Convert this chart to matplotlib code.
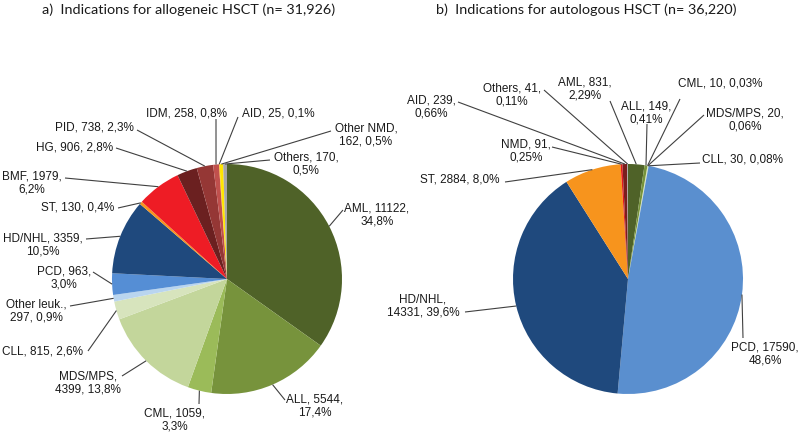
import numpy as np
import matplotlib.pyplot as plt

# a) allogeneic HSCT
allo_names = ["AML", "ALL", "CML", "MDS/MPS", "CLL", "Other leuk.", "PCD", "HD/NHL",
              "ST", "BMF", "HG", "PID", "IDM", "AID", "Other NMD", "Others"]
allo_values = [11122, 5544, 1059, 4399, 815, 297, 963, 3359,
               130, 1979, 906, 738, 258, 25, 162, 170]
allo_pct = ["34,8%", "17,4%", "3,3%", "13,8%", "2,6%", "0,9%", "3,0%", "10,5%",
            "0,4%", "6,2%", "2,8%", "2,3%", "0,8%", "0,1%", "0,5%", "0,5%"]

# b) autologous HSCT
auto_names = ["AML", "ALL", "CML", "MDS/MPS", "CLL", "PCD", "HD/NHL", "ST",
              "NMD", "AID", "Others"]
auto_values = [831, 149, 10, 20, 30, 17590, 14331, 2884, 91, 239, 41]
auto_pct = ["2,29%", "0,41%", "0,03%", "0,06%", "0,08%", "48,6%", "39,6%", "8,0%",
            "0,25%", "0,66%", "0,11%"]

# colours
allo_colors = ["#4f6228", "#77933c", "#9bbb59", "#c3d69b", "#d7e4bd", "#b9d5ef",
               "#558ed5", "#1f497d", "#f7941d", "#ee1c25", "#6b2020", "#953735",
               "#c0504d", "#f9a11b", "#ffe600", "#a6a6a6"]
auto_colors = ["#4f6228", "#77933c", "#9bbb59", "#c3d69b", "#d7e4bd", "#5a8fcf",
               "#1f497d", "#f7941d", "#e31a1c", "#7b1e1e", "#a6a6a6"]

# label layout (pixel coords from top-left): line break style, text centre, leader end
# break: 0 = one line, 1 = after name, 2 = after value
allo_break = [2, 2, 2, 1, 0, 1, 2, 2, 0, 2, 0, 0, 0, 0, 1, 2]
allo_text = [(377, 215), (315, 406), (175, 420), (88, 383), (42, 352), (36, 311),
             (64, 278), (43, 245), (78, 208), (32, 183), (75, 147), (94, 127),
             (187, 113), (278, 113), (366, 135), (306, 164)]
allo_end = [(343, 211), (285, 401), (199, 405), (122, 377), (88, 352), (70, 307),
            (93, 273), (86, 240), (118, 209), (65, 179), (116, 149), (137, 131),
            (216, 120), (238, 118), (331, 132), (270, 161)]

auto_break = [2, 2, 0, 2, 0, 2, 1, 0, 2, 2, 2]
auto_text = [(585, 89), (646, 113), (720, 83), (745, 120), (742, 160), (765, 354),
             (423, 306), (460, 180), (526, 151), (431, 107), (512, 95)]
auto_end = [(610, 102), (647, 125), (680, 100), (704, 116), (700, 164), (743, 339),
            (465, 313), (505, 183), (552, 148), (458, 103), (544, 91)]

W, H = 800, 435
R = 115

fig = plt.figure(figsize=(8, 4.35), dpi=100)
ax = fig.add_axes([0, 0, 1, 1])


def label_text(name, value, pct, brk):
    if brk == 1:
        return f"{name},\n{value}, {pct}"
    if brk == 2:
        return f"{name}, {value},\n{pct}"
    return f"{name}, {value}, {pct}"


def draw_pie(cx, cy, names, values, pct, colors, brks, texts, ends):
    wedges, _ = ax.pie(values, colors=colors, startangle=90, counterclock=False,
                       center=(cx, H - cy), radius=R,
                       wedgeprops=dict(linewidth=0))
    for w, n, v, p, b, t, e in zip(wedges, names, values, pct, brks, texts, ends):
        mid = np.deg2rad((w.theta1 + w.theta2) / 2)
        x0 = cx + R * np.cos(mid)
        y0 = H - cy + R * np.sin(mid)
        ax.plot([x0, e[0]], [y0, H - e[1]], color="#404040", lw=0.8,
                solid_capstyle="butt")
        ax.text(t[0], H - t[1], label_text(n, v, p, b), ha="center", va="center",
                multialignment="center", fontsize=8.5, family="Liberation Sans",
                color="#1a1a1a", linespacing=1.05)


draw_pie(227, 280, allo_names, allo_values, allo_pct, allo_colors,
         allo_break, allo_text, allo_end)
draw_pie(628, 280, auto_names, auto_values, auto_pct, auto_colors,
         auto_break, auto_text, auto_end)

ax.text(42, H - 10, "a)  Indications for allogeneic HSCT (n= 31,926)", ha="left",
        va="center", fontsize=10.4, family="Lato", color="#1a1a1a")
ax.text(436, H - 10, "b)  Indications for autologous HSCT (n= 36,220)", ha="left",
        va="center", fontsize=10.4, family="Lato", color="#1a1a1a")

ax.set_xlim(0, W)
ax.set_ylim(0, H)
ax.set_aspect("equal")
ax.axis("off")

fig.savefig("out.png", dpi=100)
